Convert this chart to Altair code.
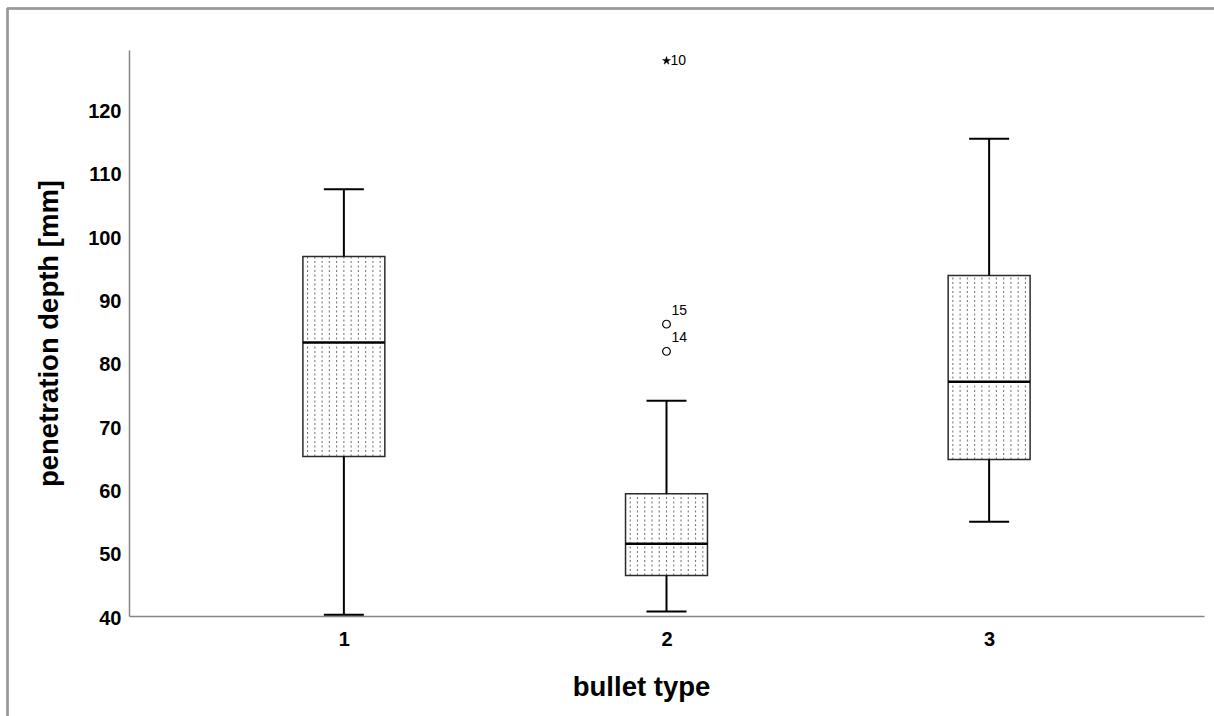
import altair as alt
import pandas as pd

# Box-plot summary per bullet type (penetration depth in mm)
bullet_type = [1, 2, 3]
whisker_low = [40.2, 40.7, 54.9]
q1 = [65.2, 46.4, 64.7]
median = [83.2, 51.4, 77.0]
q3 = [96.8, 59.3, 93.8]
whisker_high = [107.4, 74.0, 115.4]

# Outliers (circles) and extremes (stars) with their case numbers
outlier_type = [2, 2]
outlier_value = [86.1, 81.8]
outlier_case = ["15", "14"]

extreme_type = [2]
extreme_value = [127.7]
extreme_case = ["10"]

HALF_BOX = 0.127   # half box width in category units
HALF_CAP = 0.062   # half whisker-cap width
HATCH_STEP = 0.0225
FONT = "Liberation Sans"

boxes = pd.DataFrame({
    "type": bullet_type,
    "lo": whisker_low,
    "q1": q1,
    "med": median,
    "q3": q3,
    "hi": whisker_high,
})
boxes["left"] = boxes["type"] - HALF_BOX
boxes["right"] = boxes["type"] + HALF_BOX
boxes["cap_l"] = boxes["type"] - HALF_CAP
boxes["cap_r"] = boxes["type"] + HALF_CAP

# dotted fill pattern: vertical dashed strokes spread across each box
hatch = pd.DataFrame([
    {"x": t + k * HATCH_STEP, "q1": a, "q3": b}
    for t, a, b in zip(bullet_type, q1, q3)
    for k in range(-5, 6)
])

outliers = pd.DataFrame({"type": outlier_type, "value": outlier_value, "case": outlier_case})
extremes = pd.DataFrame({"type": extreme_type, "value": extreme_value, "case": extreme_case})

x_scale = alt.Scale(domain=[0.334, 3.666], nice=False, zero=False)
y_scale = alt.Scale(domain=[40, 129.4], nice=False, zero=False)

x_axis = alt.Axis(values=[1, 2, 3], format="d", title="bullet type",
                  titleX=512, titleAnchor="start", titleAlign="center")
y_axis = alt.Axis(values=list(range(40, 121, 10)), title="penetration depth [mm]",
                  labelOffset=2)

base = alt.Chart(boxes)

box_fill = base.mark_rect(fill="white").encode(
    x=alt.X("left:Q", scale=x_scale, axis=x_axis),
    x2="right:Q",
    y=alt.Y("q1:Q", scale=y_scale, axis=y_axis),
    y2="q3:Q",
)

hatch_layer = alt.Chart(hatch).mark_rule(
    stroke="#7a7a7a", strokeWidth=1.1, strokeDash=[2, 2.5]
).encode(
    x=alt.X("x:Q", scale=x_scale),
    y=alt.Y("q1:Q", scale=y_scale),
    y2="q3:Q",
)

box_outline = base.mark_rect(fill=None, stroke="#2b2b2b", strokeWidth=1.5).encode(
    x=alt.X("left:Q", scale=x_scale),
    x2="right:Q",
    y=alt.Y("q1:Q", scale=y_scale),
    y2="q3:Q",
)

whisker_up = base.mark_rule(stroke="black", strokeWidth=2).encode(
    x=alt.X("type:Q", scale=x_scale),
    y=alt.Y("q3:Q", scale=y_scale),
    y2="hi:Q",
)
whisker_down = base.mark_rule(stroke="black", strokeWidth=2).encode(
    x=alt.X("type:Q", scale=x_scale),
    y=alt.Y("lo:Q", scale=y_scale),
    y2="q1:Q",
)
cap_hi = base.mark_rule(stroke="black", strokeWidth=2).encode(
    x=alt.X("cap_l:Q", scale=x_scale),
    x2="cap_r:Q",
    y=alt.Y("hi:Q", scale=y_scale),
)
cap_lo = base.mark_rule(stroke="black", strokeWidth=2).encode(
    x=alt.X("cap_l:Q", scale=x_scale),
    x2="cap_r:Q",
    y=alt.Y("lo:Q", scale=y_scale),
)
median_line = base.mark_rule(stroke="black", strokeWidth=2.5).encode(
    x=alt.X("left:Q", scale=x_scale),
    x2="right:Q",
    y=alt.Y("med:Q", scale=y_scale),
)

outlier_pts = alt.Chart(outliers).mark_point(
    shape="circle", size=60, filled=False, stroke="black", strokeWidth=1.2, opacity=1
).encode(
    x=alt.X("type:Q", scale=x_scale),
    y=alt.Y("value:Q", scale=y_scale),
)
outlier_txt = alt.Chart(outliers).mark_text(
    align="left", baseline="middle", dx=5, dy=-13, fontSize=14, font=FONT, color="black"
).encode(
    x=alt.X("type:Q", scale=x_scale),
    y=alt.Y("value:Q", scale=y_scale),
    text="case:N",
)

STAR = ("M0,-1L0.2245,-0.309L0.951,-0.309L0.363,0.118L0.588,0.809L0,0.382"
        "L-0.588,0.809L-0.363,0.118L-0.951,-0.309L-0.2245,-0.309Z")
extreme_pts = alt.Chart(extremes).mark_point(
    shape=STAR, size=70, filled=True, fill="black", stroke="black", strokeWidth=0.5, opacity=1
).encode(
    x=alt.X("type:Q", scale=x_scale),
    y=alt.Y("value:Q", scale=y_scale),
)
extreme_txt = alt.Chart(extremes).mark_text(
    align="left", baseline="middle", dx=4, dy=0, fontSize=14, font=FONT, color="black"
).encode(
    x=alt.X("type:Q", scale=x_scale),
    y=alt.Y("value:Q", scale=y_scale),
    text="case:N",
)

# outer frame (top and left edges)
frame_top = alt.Chart(boxes).mark_rule(stroke="#999999", strokeWidth=2).encode(
    x=alt.value(-122), x2=alt.value(1100), y=alt.value(-41.5)
)
frame_left = alt.Chart(boxes).mark_rule(stroke="#999999", strokeWidth=2).encode(
    x=alt.value(-121.5), y=alt.value(-42), y2=alt.value(680)
)

chart = alt.layer(
    frame_top, frame_left,
    box_fill, hatch_layer, box_outline,
    whisker_up, whisker_down, cap_hi, cap_lo, median_line,
    outlier_pts, outlier_txt, extreme_pts, extreme_txt,
).properties(
    width=1075,
    height=566,
    padding={"left": 129, "top": 50, "right": 10, "bottom": 100},
    autosize=alt.AutoSizeParams(type="none"),
    background="white",
).configure_view(
    stroke=None
).configure_axis(
    grid=False,
    ticks=False,
    domainColor="#868686",
    domainWidth=1.5,
    labelFont=FONT,
    labelFontSize=20,
    labelFontWeight="bold",
    labelColor="black",
    titleFont=FONT,
    titleFontSize=27.5,
    titleFontWeight="bold",
    titleColor="black",
).configure_axisX(
    labelPadding=13,
    titlePadding=24,
).configure_axisY(
    labelPadding=8,
    titlePadding=24,
)

chart.save("out.html", embed_options={"renderer": "svg", "actions": False})
